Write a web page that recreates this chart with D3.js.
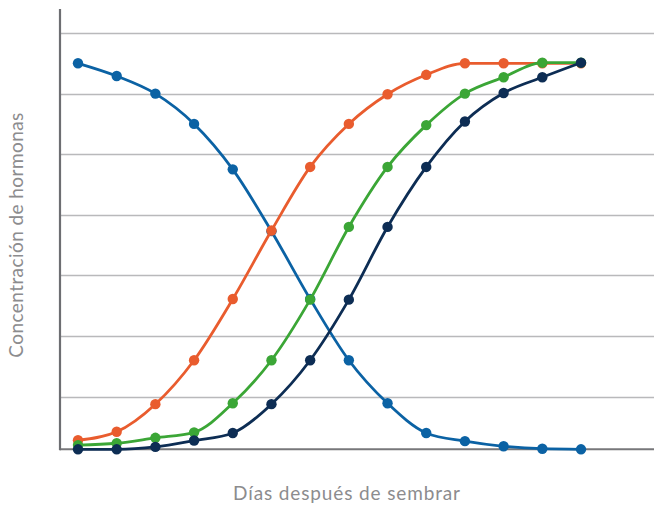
<!DOCTYPE html>
<html>
<head>
<meta charset="utf-8">
<script src="https://cdn.jsdelivr.net/npm/d3@7"></script>
<style>
  html, body { margin: 0; padding: 0; background: #fff; }
  svg { display: block; }
</style>
</head>
<body>
<svg id="chart" width="654" height="506"></svg>
<script>
const days = [1, 2, 3, 4, 5, 6, 7, 8, 9, 10, 11, 12, 13, 14];
const gridValues = [1, 2, 3, 4, 5, 6, 7];
const baselineValue = 0.13;

const seriesBlue   = [6.50, 6.29, 6.00, 5.50, 4.75, 3.73, 2.61, 1.60, 0.89, 0.40, 0.265, 0.18, 0.14, 0.13];
const seriesOrange = [0.28, 0.42, 0.875, 1.60, 2.61, 3.74, 4.79, 5.50, 5.99, 6.31, 6.50, 6.50, 6.50, 6.50];
const seriesGreen  = [0.20, 0.23, 0.32, 0.41, 0.89, 1.60, 2.60, 3.80, 4.79, 5.48, 6.00, 6.27, 6.51, 6.51];
const seriesNavy   = [0.13, 0.13, 0.17, 0.275, 0.40, 0.875, 1.60, 2.60, 3.80, 4.79, 5.54, 6.01, 6.27, 6.51];

const seriesNames  = ["blue", "orange", "green", "navy"];
const seriesColors = ["#0b62a4", "#e95c2e", "#3ba636", "#0d2d54"];

const xTitle = "Días después de sembrar";
const yTitle = "Concentración de hormonas";

const svg = d3.select("#chart");
const x = d3.scaleLinear().domain([1, 14]).range([78, 581]);
const y = d3.scaleLinear().domain([0, 7]).range([457.2, 33]);

// gridlines
svg.append("g").selectAll("line").data(gridValues).join("line")
  .attr("x1", 60).attr("x2", 654)
  .attr("y1", d => Math.round(y(d)) + 0.5).attr("y2", d => Math.round(y(d)) + 0.5)
  .attr("stroke", "#b9b9bb").attr("stroke-width", 1.3);

// x baseline
svg.append("line")
  .attr("x1", 60).attr("x2", 654)
  .attr("y1", y(baselineValue)).attr("y2", y(baselineValue))
  .attr("stroke", "#77777a").attr("stroke-width", 2);

// y axis line
svg.append("line")
  .attr("x1", 60).attr("x2", 60)
  .attr("y1", 9).attr("y2", y(baselineValue) + 1)
  .attr("stroke", "#6d6e72").attr("stroke-width", 2.2);

const all = [seriesBlue, seriesOrange, seriesGreen, seriesNavy];
const line = d3.line()
  .x((d, i) => x(days[i]))
  .y(d => y(d))
  .curve(d3.curveMonotoneX);

all.forEach((vals, k) => {
  const g = svg.append("g").attr("class", "series-" + seriesNames[k]);
  g.append("path")
    .datum(vals)
    .attr("d", line)
    .attr("fill", "none")
    .attr("stroke", seriesColors[k])
    .attr("stroke-width", 2.8);
  g.selectAll("circle").data(vals).join("circle")
    .attr("cx", (d, i) => x(days[i]))
    .attr("cy", d => y(d))
    .attr("r", 5.2)
    .attr("fill", seriesColors[k]);
});

function fitSpacing(sel, target) {
  const n = sel.text().length;
  const w = sel.node().getComputedTextLength();
  const ls = (target - w) / Math.max(1, n - 1);
  sel.attr("letter-spacing", Math.max(0, ls).toFixed(2));
}

// titles
const xt = svg.append("text")
  .attr("x", 347).attr("y", 500)
  .attr("text-anchor", "middle")
  .attr("font-family", "Lato, 'Open Sans', sans-serif")
  .attr("font-size", 19)
  .attr("fill", "#8c8c8e")
  .text(xTitle);
fitSpacing(xt, 227);

const yt = svg.append("text")
  .attr("transform", "translate(23,235) rotate(-90)")
  .attr("text-anchor", "middle")
  .attr("font-family", "Lato, 'Open Sans', sans-serif")
  .attr("font-size", 19)
  .attr("fill", "#8c8c8e")
  .text(yTitle);
fitSpacing(yt, 245);
</script>
</body>
</html>
